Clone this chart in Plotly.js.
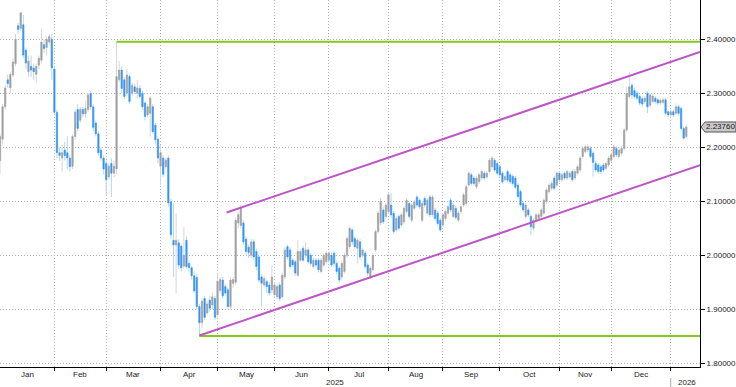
<!DOCTYPE html>
<html>
<head>
<meta charset="utf-8">
<script src="https://cdn.plot.ly/plotly-3.0.1.min.js"></script>
<style>html,body{margin:0;padding:0;background:#fff;}#chart{width:736px;height:387px;}</style>
</head>
<body>
<div id="chart"></div>
<script>
// ---- data (daily bars, first bar 2025-01-03, weekdays only) ----
var firstDay = '2025-01-03';
var openP = [
2.175,2.215,2.275,2.325,2.31,2.334,2.355,2.425,2.42,2.427,
2.38,2.34,2.35,2.347,2.335,2.352,2.361,2.39,2.385,2.395,
2.40,2.345,2.265,2.19,2.18,2.195,2.19,2.18,2.165,2.22,
2.27,2.25,2.27,2.262,2.27,2.30,2.275,2.245,2.225,2.195,
2.18,2.17,2.145,2.17,2.152,2.16,2.325,2.343,2.325,2.30,
2.331,2.30,2.312,2.30,2.309,2.30,2.282,2.26,2.263,2.275,
2.241,2.215,2.165,2.18,2.164,2.18,2.099,2.028,2.019,2.023,
2.017,1.98,2.028,1.985,1.977,1.962,1.959,1.905,1.875,1.92,
1.893,1.917,1.908,1.92,1.89,1.935,1.954,1.942,1.936,1.905,
1.948,1.95,2.06,2.055,2.06,2.03,2.015,2.0,2.025,2.007,
1.997,1.96,1.945,1.951,1.945,1.936,1.927,1.923,1.945,1.923,
1.96,2.016,2.01,1.991,1.988,1.963,1.991,2.013,2.0,2.01,
2.0,1.979,1.991,1.991,1.97,1.982,1.988,1.991,2.0,2.004,
1.985,1.976,1.96,1.97,2.0,2.016,2.047,2.031,2.013,2.025,
2.0,2.004,1.982,1.96,1.973,2.01,2.044,2.06,2.084,2.072,
2.081,2.093,2.078,2.047,2.072,2.056,2.062,2.081,2.096,2.065,
2.087,2.108,2.102,2.065,2.105,2.078,2.108,2.075,2.084,2.078,
2.065,2.056,2.068,2.078,2.102,2.072,2.087,2.065,2.081,2.093,
2.096,2.13,2.149,2.143,2.127,2.136,2.143,2.152,2.145,2.155,
2.164,2.176,2.17,2.164,2.152,2.14,2.155,2.149,2.146,2.143,
2.13,2.118,2.096,2.072,2.084,2.072,2.05,2.065,2.068,2.072,
2.078,2.099,2.118,2.124,2.143,2.13,2.152,2.14,2.152,2.143,
2.145,2.155,2.143,2.152,2.158,2.183,2.192,2.195,2.198,2.189,
2.17,2.167,2.164,2.167,2.161,2.167,2.176,2.183,2.198,2.183,
2.189,2.198,2.232,2.294,2.315,2.305,2.30,2.294,2.29,2.285,
2.30,2.278,2.285,2.291,2.288,2.282,2.283,2.288,2.266,2.26,
2.266,2.263,2.275,2.272,2.235,2.22
];
var highP = [
2.225,2.28,2.315,2.335,2.34,2.365,2.41,2.43,2.451,2.445,
2.385,2.37,2.37,2.355,2.355,2.37,2.419,2.40,2.405,2.41,
2.41,2.35,2.27,2.20,2.205,2.21,2.22,2.185,2.225,2.27,
2.28,2.275,2.275,2.287,2.30,2.305,2.28,2.25,2.23,2.20,
2.185,2.175,2.17,2.18,2.175,2.396,2.36,2.35,2.33,2.345,
2.335,2.32,2.318,2.325,2.315,2.305,2.285,2.28,2.295,2.28,
2.245,2.22,2.204,2.185,2.18,2.185,2.105,2.096,2.078,2.03,
2.02,2.053,2.035,1.99,1.98,1.97,1.965,1.91,1.92,1.925,
1.915,1.925,1.93,1.925,1.967,1.96,1.96,1.947,1.94,1.96,
1.96,2.07,2.08,2.093,2.065,2.035,2.02,2.03,2.03,2.012,
2.0,1.965,1.962,1.955,1.95,1.982,1.95,1.948,1.95,1.968,
2.015,2.02,2.015,1.995,1.992,2.028,2.012,2.018,2.025,2.015,
2.004,1.995,1.996,1.995,1.995,2.004,2.008,2.008,2.005,2.008,
1.99,1.98,1.99,2.004,2.035,2.054,2.051,2.035,2.032,2.03,
2.014,2.008,1.986,1.98,2.004,2.048,2.082,2.106,2.09,2.097,
2.116,2.115,2.082,2.072,2.076,2.079,2.091,2.106,2.10,2.097,
2.103,2.112,2.106,2.10,2.109,2.106,2.112,2.112,2.088,2.082,
2.069,2.079,2.085,2.094,2.106,2.097,2.091,2.082,2.094,2.116,
2.131,2.156,2.153,2.147,2.147,2.153,2.159,2.156,2.156,2.18,
2.184,2.18,2.174,2.168,2.156,2.15,2.159,2.153,2.15,2.147,
2.134,2.122,2.10,2.097,2.088,2.076,2.069,2.079,2.079,2.088,
2.106,2.125,2.134,2.137,2.147,2.156,2.156,2.153,2.156,2.159,
2.156,2.159,2.159,2.168,2.184,2.202,2.205,2.206,2.202,2.193,
2.174,2.171,2.168,2.171,2.174,2.184,2.19,2.205,2.202,2.199,
2.202,2.236,2.312,2.34,2.32,2.31,2.305,2.298,2.294,2.295,
2.304,2.301,2.299,2.295,2.292,2.291,2.292,2.292,2.27,2.27,
2.27,2.281,2.279,2.276,2.239,2.242
];
var lowP = [
2.15,2.205,2.27,2.31,2.30,2.33,2.35,2.41,2.415,2.365,
2.345,2.33,2.33,2.325,2.32,2.345,2.355,2.375,2.37,2.39,
2.325,2.26,2.18,2.175,2.155,2.175,2.16,2.155,2.16,2.215,
2.23,2.245,2.255,2.255,2.265,2.27,2.23,2.22,2.185,2.175,
2.15,2.11,2.14,2.108,2.145,2.15,2.32,2.30,2.29,2.295,
2.28,2.295,2.298,2.29,2.29,2.27,2.25,2.255,2.22,2.225,
2.205,2.17,2.13,2.145,2.16,2.09,2.03,1.96,1.93,1.975,
1.97,1.975,1.975,1.97,1.955,1.93,1.90,1.851,1.865,1.88,
1.89,1.895,1.90,1.88,1.885,1.93,1.92,1.925,1.90,1.90,
1.94,1.945,2.05,2.05,2.02,2.0,1.995,1.995,1.99,1.972,
1.95,1.905,1.94,1.93,1.925,1.93,1.922,1.918,1.915,1.92,
1.955,1.992,1.975,1.978,1.962,1.96,1.988,1.987,1.995,1.984,
1.98,1.975,1.978,1.968,1.966,1.978,1.984,1.987,1.978,1.98,
1.965,1.95,1.955,1.966,1.995,2.012,2.02,2.012,1.985,1.992,
1.996,1.975,1.962,1.956,1.97,2.006,2.04,2.055,2.058,2.068,
2.077,2.07,2.04,2.043,2.046,2.052,2.058,2.077,2.068,2.061,
2.083,2.089,2.086,2.061,2.089,2.074,2.071,2.071,2.064,2.055,
2.043,2.052,2.064,2.074,2.08,2.068,2.066,2.061,2.077,2.089,
2.092,2.126,2.129,2.129,2.123,2.132,2.139,2.139,2.141,2.151,
2.16,2.154,2.148,2.145,2.132,2.136,2.135,2.132,2.129,2.122,
2.105,2.089,2.08,2.068,2.071,2.038,2.046,2.061,2.064,2.068,
2.074,2.095,2.114,2.12,2.12,2.126,2.136,2.136,2.139,2.139,
2.141,2.136,2.139,2.148,2.154,2.179,2.188,2.191,2.179,2.146,
2.154,2.151,2.151,2.154,2.157,2.163,2.172,2.179,2.182,2.179,
2.185,2.194,2.228,2.29,2.29,2.29,2.287,2.278,2.274,2.281,
2.263,2.274,2.281,2.281,2.278,2.278,2.279,2.259,2.256,2.256,
2.256,2.259,2.259,2.231,2.213,2.216
];
var closeP = [
2.22,2.275,2.31,2.318,2.335,2.358,2.40,2.418,2.449,2.371,
2.356,2.36,2.343,2.34,2.35,2.365,2.395,2.383,2.40,2.405,
2.347,2.265,2.19,2.185,2.19,2.185,2.18,2.164,2.22,2.265,
2.235,2.27,2.262,2.272,2.297,2.275,2.237,2.225,2.19,2.18,
2.16,2.14,2.165,2.152,2.165,2.331,2.343,2.309,2.294,2.334,
2.285,2.315,2.303,2.31,2.294,2.275,2.257,2.275,2.291,2.229,
2.214,2.18,2.19,2.15,2.176,2.097,2.038,2.019,2.028,1.982,
1.977,2.0,1.979,1.977,1.962,1.934,1.905,1.875,1.915,1.885,
1.91,1.902,1.923,1.885,1.952,1.955,1.925,1.93,1.905,1.954,
1.955,2.065,2.075,2.087,2.025,2.007,2.005,2.025,1.997,1.979,
1.954,1.948,1.957,1.942,1.93,1.96,1.945,1.942,1.92,1.963,
2.01,1.997,1.979,1.982,1.967,2.007,2.007,1.991,2.01,1.988,
1.985,1.991,1.982,1.973,1.991,2.0,2.004,2.004,1.982,1.985,
1.97,1.954,1.985,2.0,2.031,2.05,2.025,2.016,2.028,1.997,
2.01,1.979,1.967,1.976,2.0,2.044,2.078,2.10,2.062,2.093,
2.112,2.075,2.044,2.068,2.05,2.075,2.087,2.102,2.072,2.093,
2.099,2.093,2.09,2.096,2.093,2.102,2.075,2.108,2.068,2.059,
2.047,2.075,2.081,2.09,2.084,2.093,2.07,2.078,2.09,2.112,
2.127,2.152,2.133,2.133,2.143,2.149,2.155,2.143,2.152,2.176,
2.18,2.158,2.152,2.149,2.136,2.146,2.139,2.136,2.133,2.126,
2.109,2.093,2.084,2.093,2.075,2.053,2.065,2.075,2.075,2.084,
2.102,2.121,2.13,2.133,2.124,2.152,2.14,2.149,2.143,2.155,
2.152,2.14,2.155,2.164,2.18,2.198,2.201,2.201,2.183,2.172,
2.158,2.155,2.155,2.158,2.17,2.18,2.186,2.201,2.186,2.195,
2.198,2.232,2.30,2.312,2.297,2.294,2.291,2.282,2.28,2.291,
2.275,2.297,2.295,2.285,2.282,2.287,2.288,2.263,2.26,2.266,
2.26,2.275,2.263,2.235,2.217,2.2376
];
// reference levels drawn on the chart
var greenHighLevel = 2.3956, greenHighStart = '2025-03-07';
var greenLowLevel = 1.8506, greenLowStart = '2025-04-22';
var channelUpper = [2.0793, 2.3765], channelUpperStart = '2025-05-06 12:00';
var channelLower = [1.8515, 2.1667], channelLowerStart = '2025-04-22';
var axisEnd = '2026-01-16 07:00';
var yTicks = [1.8, 1.9, 2.0, 2.1, 2.2, 2.3, 2.4];
var monthNames = ['Jan','Feb','Mar','Apr','May','Jun','Jul','Aug','Sep','Oct','Nov','Dec'];
var yearLabels = ['2025', '2026'];

// ---- trading-day dates (weekdays) ----
function weekdays(start, n) {
  var out = [], d = new Date(start + 'T00:00:00Z');
  while (out.length < n) {
    var w = d.getUTCDay();
    if (w !== 0 && w !== 6) out.push(d.toISOString().slice(0, 10));
    d.setUTCDate(d.getUTCDate() + 1);
  }
  return out;
}
var dates = weekdays(firstDay, closeP.length);

// month boundaries (first trading day of each month)
var monthStartIdx = [0];
for (var i = 1; i < dates.length; i++) {
  if (dates[i].slice(5, 7) !== dates[i - 1].slice(5, 7)) monthStartIdx.push(i);
}
var tickDates = monthStartIdx.slice(1).map(function (k) { return dates[k]; });

var bodyHigh = openP.map(function (o, k) { return Math.max(o, closeP[k]); });
var bodyLow = openP.map(function (o, k) { return Math.min(o, closeP[k]); });

var GRAY = '#a0a0a0', GRAY_L = '#d6d6d6', BLUE = '#3394f5', BLUE_L = '#b3d6f8';
var GREEN = '#86c81a', PURPLE = '#bd55c8';

var traces = [
  { type: 'candlestick', x: dates, open: openP, high: highP, low: lowP, close: closeP,
    whiskerwidth: 0, hoverinfo: 'skip',
    increasing: { line: { color: GRAY_L, width: 1 }, fillcolor: GRAY_L },
    decreasing: { line: { color: BLUE_L, width: 1 }, fillcolor: BLUE_L } },
  { type: 'candlestick', x: dates, open: openP, high: bodyHigh, low: bodyLow, close: closeP,
    whiskerwidth: 0, hoverinfo: 'skip',
    increasing: { line: { color: GRAY, width: 0.4 }, fillcolor: GRAY },
    decreasing: { line: { color: BLUE, width: 0.4 }, fillcolor: BLUE } },
  { type: 'scatter', mode: 'lines', x: [greenHighStart, axisEnd], y: [greenHighLevel, greenHighLevel],
    line: { color: GREEN, width: 2 }, hoverinfo: 'skip' },
  { type: 'scatter', mode: 'lines', x: [greenLowStart, axisEnd], y: [greenLowLevel, greenLowLevel],
    line: { color: GREEN, width: 2 }, hoverinfo: 'skip' },
  { type: 'scatter', mode: 'lines', x: [channelUpperStart, axisEnd], y: channelUpper,
    line: { color: PURPLE, width: 2 }, hoverinfo: 'skip' },
  { type: 'scatter', mode: 'lines', x: [channelLowerStart, axisEnd], y: channelLower,
    line: { color: PURPLE, width: 2 }, hoverinfo: 'skip' }
];

var FONT = 'Liberation Sans, Arial, sans-serif';
var annotations = [];
// month labels centred in each month period
for (var m = 0; m < monthStartIdx.length; m++) {
  var a = monthStartIdx[m];
  var b = (m + 1 < monthStartIdx.length) ? monthStartIdx[m + 1] : null;
  if (b === null) continue; // January 2026 has no month label
  var mid = (a + b) / 2, mi = Math.floor(mid);
  var xd = dates[mi] + (mid - mi > 0 ? ' 12:00' : '');
  var mon = parseInt(dates[a].slice(5, 7), 10) - 1;
  annotations.push({ x: xd, xref: 'x', y: 0, yref: 'paper', yanchor: 'top', yshift: -1,
    text: monthNames[mon], showarrow: false, font: { family: FONT, size: 8, color: '#222' } });
}
annotations.push({ x: 0.4786, xref: 'paper', y: 0, yref: 'paper', yanchor: 'top', yshift: -9,
  text: yearLabels[0], showarrow: false, font: { family: FONT, size: 8, color: '#222' } });
var jan2026 = tickDates[tickDates.length - 1];
annotations.push({ x: jan2026, xref: 'x', xanchor: 'left', xshift: 5, y: 0, yref: 'paper', yanchor: 'top', yshift: -9,
  text: yearLabels[1], showarrow: false, font: { family: FONT, size: 8, color: '#222' } });

var yMin = 1.7931, yMax = 2.4728;
var lastClose = closeP[closeP.length - 1];
var lastPaperY = (lastClose - yMin) / (yMax - yMin);
annotations.push({ x: 1, xref: 'paper', xanchor: 'left', xshift: 4, y: lastPaperY, yref: 'paper', yanchor: 'middle',
  text: lastClose.toFixed(5), showarrow: false, font: { family: FONT, size: 8, color: '#222' } });

var shapes = [
  { type: 'path', xref: 'paper', yref: 'paper', xsizemode: 'pixel', ysizemode: 'pixel',
    xanchor: 1, yanchor: lastPaperY, path: 'M1,0 L5,5 L36,5 L36,-5 L5,-5 Z',
    fillcolor: '#c9c9c9', line: { color: '#555', width: 1 } },
  { type: 'line', xref: 'paper', yref: 'paper', x0: 670.7 / 700, x1: 670.7 / 700, y0: -0.03, y1: -0.055,
    line: { color: '#aaa', width: 1 } }
];

var layout = {
  width: 736, height: 387,
  margin: { l: 0, r: 36, t: 0, b: 20, pad: 0 },
  paper_bgcolor: '#fff', plot_bgcolor: '#fff',
  showlegend: false, hovermode: false,
  font: { family: FONT, size: 8, color: '#222' },
  xaxis: {
    type: 'date', range: [firstDay, axisEnd],
    rangebreaks: [{ bounds: ['sat', 'mon'] }],
    rangeslider: { visible: false },
    tickmode: 'array', tickvals: tickDates, showticklabels: false,
    ticks: 'outside', ticklen: 3, tickcolor: '#000', tickwidth: 1,
    showgrid: true, gridcolor: '#b3b3b3', griddash: '1px,2px', gridwidth: 1,
    showline: true, linecolor: '#000', linewidth: 1, zeroline: false, fixedrange: true
  },
  yaxis: {
    side: 'right', range: [yMin, yMax],
    tickmode: 'array', tickvals: yTicks, tickformat: '.5f',
    ticks: 'outside', ticklen: 4, tickcolor: '#000', tickwidth: 1,
    tickfont: { family: FONT, size: 8, color: '#222' },
    showgrid: true, gridcolor: '#b3b3b3', griddash: '1px,2px', gridwidth: 1,
    showline: true, linecolor: '#000', linewidth: 1, zeroline: false, fixedrange: true
  },
  annotations: annotations,
  shapes: shapes
};

Plotly.newPlot('chart', traces, layout, { displayModeBar: false, staticPlot: true });
</script>
</body>
</html>
